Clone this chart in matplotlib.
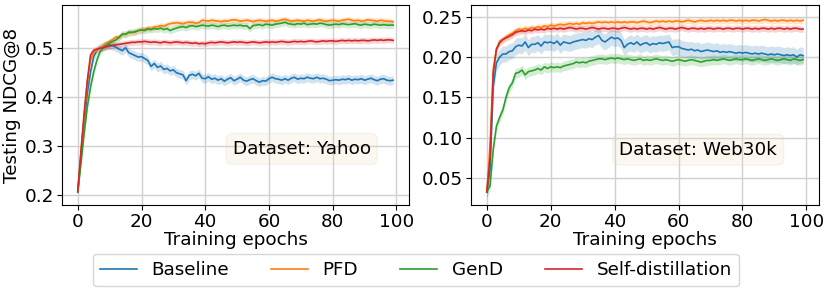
import numpy as np
import matplotlib
matplotlib.use("Agg")
import matplotlib.pyplot as plt

epochs = list(range(100))
labels = ["Baseline", "PFD", "GenD", "Self-distillation"]
colors = ["#1f77b4", "#ff7f0e", "#2ca02c", "#d62728"]

yahoo_baseline = [
    0.207, 0.278, 0.346, 0.408, 0.451, 0.482, 0.495, 0.500, 0.503, 0.505,
    0.506, 0.504, 0.501, 0.497, 0.494, 0.500, 0.490, 0.487, 0.484, 0.481,
    0.482, 0.478, 0.474, 0.462, 0.468, 0.460, 0.463, 0.456, 0.458, 0.453,
    0.455, 0.449, 0.447, 0.445, 0.433, 0.444, 0.446, 0.443, 0.448, 0.438,
    0.437, 0.441, 0.436, 0.438, 0.434, 0.437, 0.432, 0.436, 0.439, 0.433,
    0.436, 0.440, 0.434, 0.432, 0.435, 0.437, 0.433, 0.430, 0.433, 0.432,
    0.437, 0.440, 0.437, 0.436, 0.434, 0.437, 0.434, 0.438, 0.440, 0.436,
    0.438, 0.437, 0.440, 0.438, 0.437, 0.440, 0.437, 0.438, 0.436, 0.433,
    0.434, 0.435, 0.434, 0.436, 0.435, 0.437, 0.434, 0.436, 0.435, 0.437,
    0.434, 0.436, 0.438, 0.435, 0.433, 0.436, 0.437, 0.434, 0.433, 0.434]
yahoo_pfd = [
    0.207, 0.285, 0.360, 0.430, 0.475, 0.490, 0.495, 0.500, 0.505, 0.510,
    0.513, 0.517, 0.522, 0.520, 0.527, 0.528, 0.530, 0.532, 0.531, 0.535,
    0.537, 0.538, 0.540, 0.539, 0.542, 0.543, 0.545, 0.544, 0.547, 0.549,
    0.550, 0.551, 0.550, 0.549, 0.551, 0.552, 0.552, 0.550, 0.551, 0.556,
    0.555, 0.554, 0.556, 0.555, 0.554, 0.553, 0.555, 0.554, 0.556, 0.557,
    0.556, 0.554, 0.555, 0.556, 0.555, 0.553, 0.555, 0.556, 0.555, 0.554,
    0.555, 0.556, 0.554, 0.555, 0.557, 0.558, 0.556, 0.554, 0.555, 0.556,
    0.555, 0.554, 0.556, 0.555, 0.554, 0.556, 0.557, 0.555, 0.554, 0.555,
    0.556, 0.555, 0.554, 0.556, 0.557, 0.558, 0.556, 0.555, 0.556, 0.554,
    0.555, 0.557, 0.556, 0.555, 0.554, 0.556, 0.555, 0.554, 0.554, 0.553]
yahoo_gend = [
    0.207, 0.265, 0.326, 0.380, 0.420, 0.451, 0.475, 0.492, 0.500, 0.505,
    0.510, 0.513, 0.516, 0.522, 0.528, 0.527, 0.532, 0.531, 0.533, 0.535,
    0.536, 0.535, 0.538, 0.537, 0.539, 0.538, 0.540, 0.537, 0.539, 0.535,
    0.538, 0.540, 0.542, 0.543, 0.541, 0.544, 0.545, 0.543, 0.544, 0.546,
    0.545, 0.544, 0.546, 0.545, 0.543, 0.545, 0.546, 0.544, 0.545, 0.546,
    0.545, 0.546, 0.544, 0.545, 0.539, 0.545, 0.546, 0.547, 0.545, 0.548,
    0.547, 0.546, 0.548, 0.549, 0.550, 0.552, 0.549, 0.548, 0.547, 0.549,
    0.548, 0.550, 0.547, 0.548, 0.549, 0.548, 0.550, 0.549, 0.547, 0.546,
    0.547, 0.548, 0.547, 0.549, 0.548, 0.547, 0.548, 0.549, 0.547, 0.546,
    0.548, 0.547, 0.546, 0.548, 0.547, 0.546, 0.547, 0.546, 0.546, 0.546]
yahoo_self = [
    0.207, 0.290, 0.367, 0.434, 0.485, 0.495, 0.497, 0.499, 0.500, 0.502,
    0.503, 0.505, 0.506, 0.507, 0.508, 0.509, 0.510, 0.511, 0.511, 0.512,
    0.512, 0.513, 0.512, 0.511, 0.512, 0.511, 0.510, 0.512, 0.511, 0.510,
    0.511, 0.512, 0.511, 0.510, 0.511, 0.510, 0.509, 0.510, 0.508, 0.509,
    0.508, 0.510, 0.511, 0.510, 0.511, 0.512, 0.511, 0.510, 0.511, 0.512,
    0.511, 0.512, 0.511, 0.510, 0.511, 0.512, 0.511, 0.510, 0.511, 0.512,
    0.511, 0.512, 0.511, 0.512, 0.513, 0.512, 0.511, 0.512, 0.513, 0.512,
    0.513, 0.512, 0.513, 0.514, 0.513, 0.512, 0.513, 0.514, 0.513, 0.514,
    0.514, 0.513, 0.514, 0.515, 0.514, 0.515, 0.514, 0.515, 0.514, 0.515,
    0.515, 0.514, 0.515, 0.516, 0.515, 0.516, 0.515, 0.516, 0.516, 0.515]

web_baseline = [
    0.032, 0.060, 0.163, 0.193, 0.200, 0.204, 0.204, 0.207, 0.208, 0.213,
    0.215, 0.214, 0.219, 0.212, 0.216, 0.216, 0.218, 0.214, 0.219, 0.218,
    0.219, 0.217, 0.220, 0.215, 0.219, 0.218, 0.217, 0.219, 0.220, 0.221,
    0.222, 0.221, 0.223, 0.222, 0.225, 0.227, 0.221, 0.219, 0.222, 0.225,
    0.223, 0.224, 0.221, 0.212, 0.216, 0.218, 0.216, 0.219, 0.215, 0.217,
    0.218, 0.215, 0.217, 0.216, 0.218, 0.217, 0.218, 0.219, 0.212, 0.213,
    0.213, 0.211, 0.210, 0.209, 0.210, 0.208, 0.209, 0.207, 0.208, 0.209,
    0.208, 0.207, 0.208, 0.206, 0.207, 0.206, 0.207, 0.206, 0.205, 0.206,
    0.205, 0.206, 0.205, 0.204, 0.205, 0.204, 0.205, 0.204, 0.203, 0.204,
    0.203, 0.204, 0.203, 0.202, 0.203, 0.202, 0.203, 0.200, 0.203, 0.202]
web_pfd = [
    0.032, 0.090, 0.185, 0.210, 0.220, 0.222, 0.225, 0.228, 0.230, 0.233,
    0.235, 0.234, 0.236, 0.235, 0.237, 0.236, 0.238, 0.237, 0.239, 0.238,
    0.240, 0.239, 0.240, 0.241, 0.240, 0.241, 0.242, 0.241, 0.242, 0.241,
    0.243, 0.242, 0.243, 0.242, 0.243, 0.244, 0.243, 0.244, 0.243, 0.244,
    0.243, 0.244, 0.243, 0.244, 0.243, 0.244, 0.244, 0.243, 0.244, 0.245,
    0.244, 0.243, 0.244, 0.245, 0.244, 0.245, 0.244, 0.245, 0.244, 0.245,
    0.245, 0.244, 0.245, 0.246, 0.245, 0.244, 0.245, 0.246, 0.245, 0.245,
    0.246, 0.245, 0.246, 0.245, 0.246, 0.245, 0.246, 0.246, 0.245, 0.246,
    0.245, 0.246, 0.245, 0.246, 0.246, 0.245, 0.246, 0.247, 0.246, 0.245,
    0.246, 0.245, 0.246, 0.246, 0.245, 0.246, 0.245, 0.246, 0.245, 0.246]
web_gend = [
    0.032, 0.040, 0.085, 0.114, 0.125, 0.134, 0.150, 0.162, 0.168, 0.180,
    0.181, 0.184, 0.178, 0.182, 0.183, 0.184, 0.186, 0.184, 0.188, 0.186,
    0.188, 0.187, 0.188, 0.187, 0.189, 0.190, 0.191, 0.192, 0.194, 0.193,
    0.194, 0.193, 0.195, 0.196, 0.197, 0.198, 0.198, 0.197, 0.198, 0.199,
    0.198, 0.199, 0.198, 0.197, 0.198, 0.197, 0.196, 0.197, 0.198, 0.196,
    0.197, 0.196, 0.197, 0.198, 0.197, 0.196, 0.197, 0.196, 0.195, 0.196,
    0.197, 0.196, 0.195, 0.196, 0.197, 0.196, 0.195, 0.194, 0.195, 0.196,
    0.196, 0.197, 0.196, 0.197, 0.198, 0.197, 0.196, 0.197, 0.198, 0.197,
    0.197, 0.198, 0.197, 0.196, 0.197, 0.198, 0.197, 0.196, 0.197, 0.198,
    0.197, 0.196, 0.197, 0.198, 0.197, 0.196, 0.198, 0.197, 0.196, 0.197]
web_self = [
    0.032, 0.075, 0.180, 0.210, 0.218, 0.222, 0.224, 0.226, 0.228, 0.231,
    0.232, 0.233, 0.232, 0.234, 0.233, 0.235, 0.234, 0.235, 0.234, 0.236,
    0.235, 0.236, 0.235, 0.236, 0.235, 0.236, 0.237, 0.236, 0.235, 0.236,
    0.236, 0.235, 0.236, 0.237, 0.236, 0.235, 0.236, 0.236, 0.235, 0.236,
    0.236, 0.235, 0.236, 0.237, 0.236, 0.235, 0.236, 0.235, 0.236, 0.236,
    0.235, 0.236, 0.235, 0.236, 0.237, 0.236, 0.235, 0.236, 0.236, 0.235,
    0.236, 0.237, 0.236, 0.235, 0.236, 0.236, 0.235, 0.236, 0.235, 0.236,
    0.236, 0.235, 0.236, 0.236, 0.235, 0.236, 0.236, 0.235, 0.236, 0.236,
    0.235, 0.236, 0.236, 0.235, 0.236, 0.235, 0.236, 0.236, 0.235, 0.236,
    0.235, 0.236, 0.236, 0.235, 0.236, 0.235, 0.236, 0.236, 0.235, 0.235]

yahoo_band = [0.009, 0.006, 0.007, 0.006]
web_band = [0.010, 0.004, 0.006, 0.004]

panels = [
    ("Dataset: Yahoo", [yahoo_baseline, yahoo_pfd, yahoo_gend, yahoo_self], yahoo_band),
    ("Dataset: Web30k", [web_baseline, web_pfd, web_gend, web_self], web_band),
]

FS = 13.2
fig = plt.figure(figsize=(8.3, 2.94), dpi=100)
ax1 = fig.add_axes([62/830, 1-205/294, 347/830, 200/294])
ax2 = fig.add_axes([471/830, 1-205/294, 348/830, 200/294])
axes = [ax1, ax2]

text_pos = [(0.691, 0.28), (0.653, 0.277)]
for ax, (title, series, bands), tp in zip(axes, panels, text_pos):
    x = np.array(epochs)
    for s, b, lab, c in zip(series, bands, labels, colors):
        y = np.array(s)
        ax.fill_between(x, y - b, y + b, color=c, alpha=0.2, linewidth=0)
        ax.plot(x, y, color=c, lw=1.2, label=lab)
    ax.grid(True, color='#d0d0d0', lw=1.0)
    ax.set_axisbelow(True)
    ax.set_xlabel("Training epochs", fontsize=FS, labelpad=0)
    ax.tick_params(labelsize=FS, pad=2)
    ax.set_xticks([0, 20, 40, 60, 80, 100])
    ax.text(tp[0], tp[1], title, transform=ax.transAxes, fontsize=FS,
            ha='center', va='center',
            bbox=dict(boxstyle='round,pad=0.35', facecolor='wheat', alpha=0.2,
                      edgecolor='#cccccc'))

ax1.set_ylim(0.18, 0.587)
ax1.set_yticks([0.2, 0.3, 0.4, 0.5])
ax2.set_ylim(0.016, 0.265)
ax2.set_yticks([0.05, 0.10, 0.15, 0.20, 0.25])
ax1.set_ylabel("Testing NDCG@8", fontsize=FS, labelpad=3)

handles, labs = ax1.get_legend_handles_labels()
fig.legend(handles, labs, loc='center', bbox_to_anchor=(416/830, 1-270/294),
           ncol=4, fontsize=FS, columnspacing=2.3, handlelength=2.0,
           frameon=True)

fig.savefig("out.png", dpi=100)
